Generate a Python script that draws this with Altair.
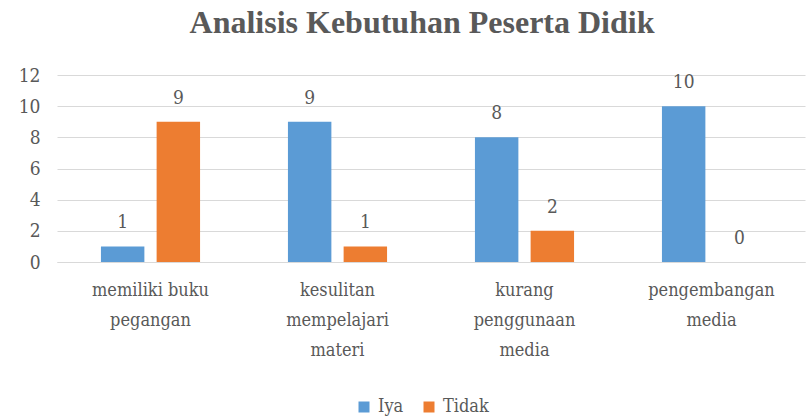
import altair as alt
import pandas as pd

categories = ["memiliki buku pegangan", "kesulitan mempelajari materi",
              "kurang penggunaan media", "pengembangan media"]
label_lines = [["memiliki buku", "pegangan"], ["kesulitan", "mempelajari", "materi"],
               ["kurang", "penggunaan", "media"], ["pengembangan", "media"]]
iya = [1, 9, 8, 10]
tidak = [9, 1, 2, 0]
series = ["Iya", "Tidak"]
colors = ["#5B9BD5", "#ED7D31"]
y_ticks = [0, 2, 4, 6, 8, 10, 12]

rows = []
for c, a, b in zip(categories, iya, tidak):
    rows.append({"cat": c, "series": "Iya", "value": a})
    rows.append({"cat": c, "series": "Tidak", "value": b})
df = pd.DataFrame(rows)

expr_parts = []
for c, lines in zip(categories, label_lines):
    arr = "[" + ",".join("'" + l + "'" for l in lines) + "]"
    expr_parts.append(f"datum.value == '{c}' ? {arr}")
label_expr = " : ".join(expr_parts) + " : datum.value"

FONT = "DejaVu Serif Condensed"
TITLE_FONT = "Liberation Serif"
GRAY = "#595959"

base = alt.Chart(df).encode(
    x=alt.X("cat:N", sort=categories, title=None,
            scale=alt.Scale(paddingInner=0.47, paddingOuter=0.235),
            axis=alt.Axis(labelExpr=label_expr, labelAngle=0, ticks=False,
                          domainColor="#d9d9d9", labelPadding=19, labelLineHeight=30,
                          labelBaseline="top", labelFont=FONT,
                          labelFontSize=18, labelColor=GRAY)),
    xOffset=alt.XOffset("series:N", sort=series,
                        scale=alt.Scale(paddingInner=0.22, paddingOuter=0)),
    y=alt.Y("value:Q", title=None,
            scale=alt.Scale(domain=[0, 12]),
            axis=alt.Axis(values=y_ticks, labelOverlap=False,
                          domain=False, ticks=False, labelFont=FONT,
                          labelFontSize=19, labelColor=GRAY, gridColor="#d9d9d9",
                          labelPadding=17)),
)

bars = base.mark_bar().encode(
    color=alt.Color("series:N", sort=series,
                    scale=alt.Scale(domain=series, range=colors),
                    legend=alt.Legend(title=None, orient="none", direction="horizontal",
                                      legendX=298, legendY=323, symbolType="square",
                                      symbolSize=121, symbolStrokeWidth=0,
                                      labelFont=FONT, labelFontSize=18,
                                      labelColor=GRAY, columnPadding=16, labelOffset=5)),
)

texts = base.mark_text(font=FONT, fontSize=19, color=GRAY, dy=-14,
                       baseline="bottom").encode(
    text=alt.Text("value:Q"),
)

chart = (bars + texts).properties(
    width=748, height=187,
    autosize=alt.AutoSizeParams(type="none"),
    padding={"left": 57, "top": 75, "right": 6, "bottom": 154},
    title=alt.TitleParams("Analisis Kebutuhan Peserta Didik", font=TITLE_FONT,
                          fontSize=32, fontWeight="bold", color=GRAY, anchor="middle",
                          offset=26, dx=-9),
).configure_view(stroke=None)

chart.save("out.html", embed_options={"renderer": "svg", "actions": False})
